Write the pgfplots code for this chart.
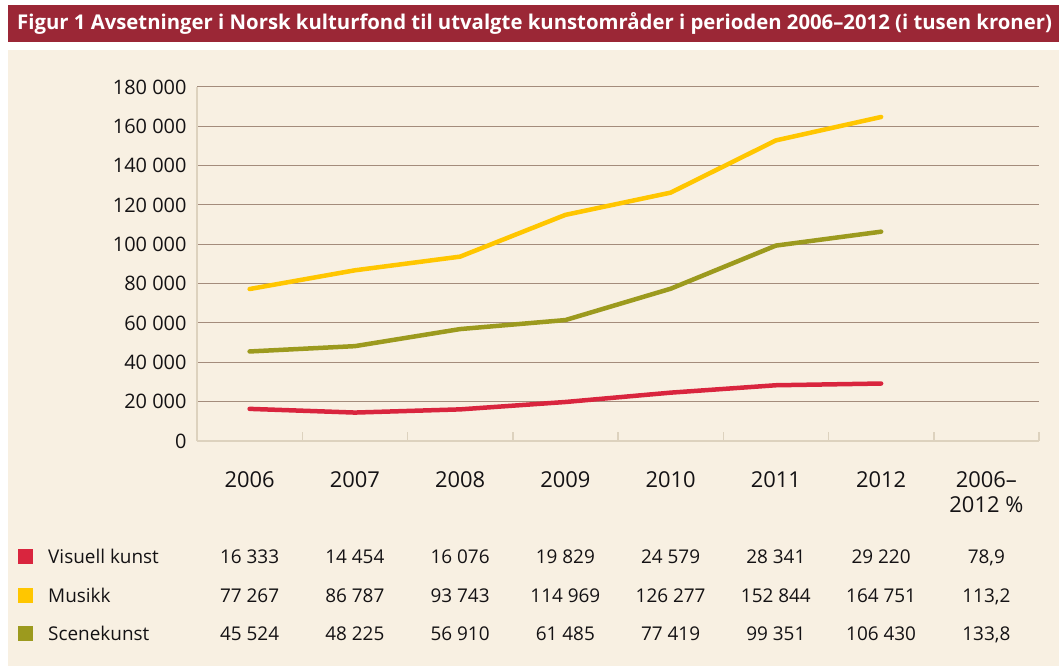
\documentclass[border=0pt]{standalone}
\usepackage{fontspec}
\setmainfont{Open Sans}
\usepackage{pgfplots}
\pgfplotsset{compat=1.18}
\definecolor{titlered}{HTML}{9B2736}
\definecolor{panel}{HTML}{F8F0E2}
\definecolor{gridc}{HTML}{A48C7C}
\definecolor{axisc}{HTML}{DDD2BE}
\definecolor{visc}{HTML}{D9253E}
\definecolor{musc}{HTML}{FFC600}
\definecolor{scec}{HTML}{9C9A1E}
\definecolor{txt}{HTML}{141214}
\newcommand{\fs}{\fontsize{19}{23}\selectfont}

\begin{document}
\begin{tikzpicture}[x=1bp,y=1bp]
% frame, title bar and panel
\fill[white] (0,0) rectangle (1059,666);
\fill[titlered] (8,624) rectangle (1059,661);
\fill[panel] (8,0) rectangle (1059,616);
\node[anchor=west, text=white, inner sep=0pt, font=\bfseries\fontsize{20.4}{22}\selectfont]
  at (17,643) {Figur 1 Avsetninger i Norsk kulturfond til utvalgte kunstområder i perioden 2006–2012 (i tusen kroner)};

\begin{axis}[
  at={(197bp,225bp)}, anchor=south west,
  scale only axis, width=842bp, height=354bp,
  xmin=-0.5, xmax=7.5, ymin=0, ymax=180000,
  axis x line=bottom, axis y line=left,
  axis line style={draw=axisc, line width=2bp, -},
  xtick={0,...,7},
  xticklabels={2006,2007,2008,2009,2010,2011,2012,{2006–\\2012 \%}},
  minor xtick={0.5,1.5,...,7.5},
  tick align=inside,
  major tick length=0pt,
  minor tick length=9bp,
  minor x tick style={draw=axisc, line width=1.5bp},
  ytick={0,20000,...,180000},
  yticklabels={0,20 000,40 000,60 000,80 000,100 000,120 000,140 000,160 000,180 000},
  scaled y ticks=false,
  ymajorgrids,
  grid style={draw=gridc, line width=1bp},
  yticklabel style={font=\fontsize{20}{24}\selectfont, text=txt, xshift=-7bp},
  xticklabel style={font=\fontsize{22}{25}\selectfont, text=txt, align=center, yshift=-27bp},
  clip=false,
]
\addplot[scec, line width=4.5bp, line join=round, line cap=round] coordinates {
  (0,45524) (1,48225) (2,56910) (3,61485) (4,77419) (5,99351) (6,106430)};
\addplot[musc, line width=4.5bp, line join=round, line cap=round] coordinates {
  (0,77267) (1,86787) (2,93743) (3,114969) (4,126277) (5,152844) (6,164751)};
\addplot[visc, line width=4.5bp, line join=round, line cap=round] coordinates {
  (0,16333) (1,14454) (2,16076) (3,19829) (4,24579) (5,28341) (6,29220)};
\end{axis}

% data table below the chart
\begin{scope}[every node/.style={font=\fs, text=txt, anchor=base}]
\fill[visc] (18,102) rectangle (32.5,116.5);
\fill[musc] (18,63) rectangle (32.5,77.5);
\fill[scec] (18,25) rectangle (32.5,39.5);
\node[anchor=base west, inner sep=0pt] at (48,102) {Visuell kunst};
\node[anchor=base west, inner sep=0pt] at (48,63) {Musikk};
\node[anchor=base west, inner sep=0pt] at (48,25) {Scenekunst};
\foreach \v [count=\i from 0] in {16 333,14 454,16 076,19 829,24 579,28 341,29 220,{78,9}}
  \node at (249.6+105.25*\i,102) {\v};
\foreach \v [count=\i from 0] in {77 267,86 787,93 743,114 969,126 277,152 844,164 751,{113,2}}
  \node at (249.6+105.25*\i,63) {\v};
\foreach \v [count=\i from 0] in {45 524,48 225,56 910,61 485,77 419,99 351,106 430,{133,8}}
  \node at (249.6+105.25*\i,25) {\v};
\end{scope}
\end{tikzpicture}
\end{document}
